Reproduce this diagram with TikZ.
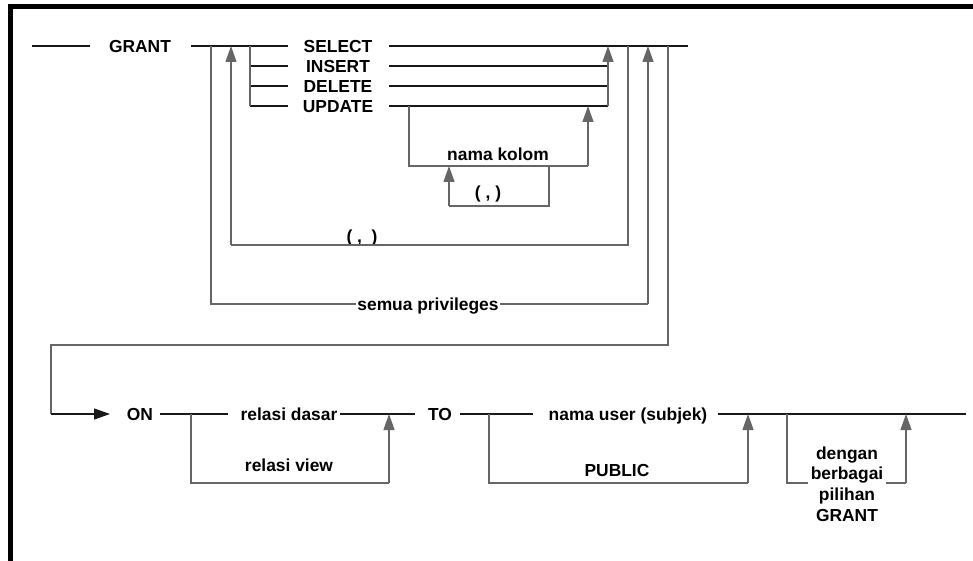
\documentclass[tikz,border=0pt]{standalone}
\usepackage{fontspec}
\setmainfont{Liberation Sans}
\usetikzlibrary{arrows.meta}
\begin{document}
\begin{tikzpicture}[x=1pt,y=-1pt,
  lbl/.style={font=\bfseries\fontsize{17.4}{20.7}\selectfont, text height=12.5pt, text depth=0pt, inner xsep=1.5pt, inner ysep=0pt},
  mlbl/.style={font=\bfseries\fontsize{17.4}{20.7}\selectfont, align=center, inner xsep=2.5pt, inner ysep=0pt},
  trk/.style={line width=1.2pt, draw=black!90},
  lp/.style={line width=1.2pt, draw=black!60},
  arr/.style={-{Triangle[length=16pt,width=11pt]}},
  frm/.style={line width=5pt, draw=black}]

\useasboundingbox (0,0) rectangle (973,561);
\draw[frm] (10.5,561) -- (10.5,6.5) -- (973,6.5);

% labels
\node[lbl] (grant)  at (140,46)  {GRANT};
\node[lbl] (select) at (338,46)  {SELECT};
\node[lbl] (insert) at (338,66)  {INSERT};
\node[lbl] (delete) at (338,86)  {DELETE};
\node[lbl] (update) at (338,106) {UPDATE};
\node[lbl] (kolom)  at (498,154) {nama kolom};
\node[lbl] (koma1)  at (488,192) {( , )};
\node[lbl] (koma2)  at (362,236) {( ,~~)};
\node[lbl] (semua)  at (428,304) {semua privileges};
\node[lbl] (on)     at (140,414) {ON};
\node[lbl] (rdasar) at (289,414) {relasi dasar};
\node[lbl] (rview)  at (289,465) {relasi view};
\node[lbl] (to)     at (440,414) {TO};
\node[lbl] (nuser)  at (628,414) {nama user (subjek)};
\node[lbl] (public) at (617,470) {PUBLIC};
\node[mlbl] (dengan) at (847,484) {dengan\\berbagai\\pilihan\\GRANT};

% coordinates row 1
\coordinate (s0) at (32,46);   \coordinate (s1) at (90,46);
\coordinate (r1a) at (191,46); \coordinate (r1e) at (688,46);
\coordinate (sl) at (288,46);  \coordinate (sr) at (389,46);
\coordinate (il) at (250,66);  \coordinate (ir) at (389,66);  \coordinate (ie) at (608,66);
\coordinate (dl) at (250,86);  \coordinate (dr) at (389,86);  \coordinate (de) at (608,86);
\coordinate (ul) at (250,106); \coordinate (ur) at (389,106); \coordinate (ue) at (608,106);
\coordinate (ub) at (250,46);  \coordinate (ut) at (608,46);
\coordinate (ka) at (409,106); \coordinate (kb) at (409,166); \coordinate (kc) at (588,166); \coordinate (kd) at (588,106);
\coordinate (ca) at (549,166); \coordinate (cb) at (549,206); \coordinate (cc) at (449,206); \coordinate (cd) at (449,166);
\coordinate (oa) at (628,46);  \coordinate (ob) at (628,245); \coordinate (oc) at (231,245); \coordinate (od) at (231,46);
\coordinate (pa) at (211,46);  \coordinate (pb) at (211,304); \coordinate (pc) at (648,304); \coordinate (pd) at (648,46);
\coordinate (na) at (668,46);  \coordinate (nb) at (668,345); \coordinate (nc) at (51,345);  \coordinate (nd) at (51,414); \coordinate (ne) at (110,414);
% coordinates row 2
\coordinate (o1) at (160,414); \coordinate (o2) at (228,414); \coordinate (o3) at (340,414); \coordinate (o4) at (415,414);
\coordinate (va) at (191,414); \coordinate (vb) at (191,483); \coordinate (vc) at (389,483); \coordinate (vd) at (389,414);
\coordinate (t1) at (460,414); \coordinate (t2) at (533,414); \coordinate (t3) at (718,414); \coordinate (t4) at (966,414);
\coordinate (ba) at (489,414); \coordinate (bb) at (489,483); \coordinate (bc) at (748,483); \coordinate (bd) at (748,414);
\coordinate (ga) at (787,414); \coordinate (gb) at (787,483); \coordinate (gc) at (906,483); \coordinate (gd) at (906,414);

% main tracks row 1
\draw[trk] (s0) -- (s1);
\draw[trk] (r1a) -- (sl);
\draw[trk] (sr) -- (r1e);
\draw[trk] (il) -- +(38,0);
\draw[trk] (dl) -- +(38,0);
\draw[trk] (ul) -- +(38,0);
\draw[trk] (ir) -- (ie);
\draw[trk] (dr) -- (de);
\draw[trk] (ur) -- (ue);
\draw[lp] (ub) -- (ul);
\draw[lp,arr] (ue) -- (ut);
% nama kolom loop
\draw[lp] (ka) -- (kb) -- (kc);
\draw[lp,arr] (kc) -- (kd);
\draw[lp] (ca) -- (cb) -- (cc);
\draw[lp,arr] (cc) -- (cd);
% outer comma loop
\draw[lp] (oa) -- (ob) -- (oc);
\draw[lp,arr] (oc) -- (od);
% semua privileges
\draw[lp] (pa) -- (pb) -- (semua.west);
\draw[lp] (semua.east) -- (pc);
\draw[lp,arr] (pc) -- (pd);
% link to ON
\draw[lp] (na) -- (nb) -- (nc) -- (nd);
\draw[trk,arr] (nd) -- (ne);
% row 2
\draw[trk] (o1) -- (o2);
\draw[trk] (o3) -- (o4);
\draw[lp] (va) -- (vb) -- (vc);
\draw[lp,arr] (vc) -- (vd);
\draw[trk] (t1) -- (t2);
\draw[trk] (t3) -- (t4);
\draw[lp] (ba) -- (bb) -- (bc);
\draw[lp,arr] (bc) -- (bd);
\draw[lp] (ga) -- (gb) -- (dengan.west |- gb);
\draw[lp] (dengan.east |- gb) -- (gc);
\draw[lp,arr] (gc) -- (gd);
\end{tikzpicture}
\end{document}
